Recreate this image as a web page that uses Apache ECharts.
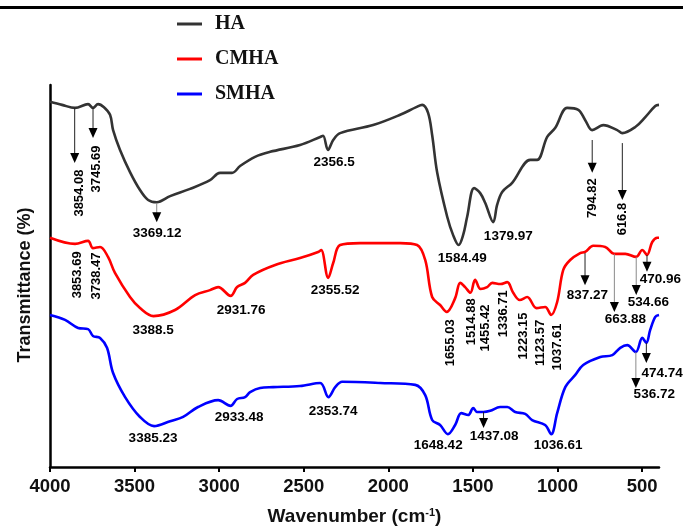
<!DOCTYPE html>
<html>
<head>
<meta charset="utf-8">
<script src="https://cdn.jsdelivr.net/npm/echarts@6/dist/echarts.min.js"></script>
<style>
html,body{margin:0;padding:0;background:#fff;}
#c{width:683px;height:526px;}
</style>
</head>
<body>
<div id="c"></div>
<script>
// ---------- data (wavenumber cm-1, transmittance, arbitrary offset units) ----------
const seriesNames = ['HA', 'CMHA', 'SMHA'];
const xTickValues = [4000, 3500, 3000, 2500, 2000, 1500, 1000, 500];

const haData = [[4000,95.6],[3929,94.8],[3852,94.0],[3775,95.0],[3746,94.0],[3716,95.0],[3681,94.2],[3645,92.2],[3627,88.2],[3586,83.0],[3527,77.2],[3468,72.5],[3420,69.9],[3369,69.3],[3290,70.9],[3172,72.8],[3054,75.1],[2995,77.0],[2924,77.0],[2876,78.8],[2788,81.2],[2699,82.5],[2522,84.3],[2403,86.4],[2386,86.7],[2356.5,83.0],[2326,85.6],[2285,87.4],[2090,89.5],[1930,92.2],[1835,94.2],[1800,94.8],[1765,92.7],[1741,86.9],[1711,77.0],[1652,65.5],[1617,60.7],[1584.5,58.1],[1558,60.7],[1534,65.5],[1493,73.0],[1457,71.7],[1427,69.1],[1380,64.1],[1357,68.6],[1327,72.0],[1268,74.4],[1161,80.4],[1120,80.4],[1061,86.4],[1013,88.8],[943,94.0],[877,93.5],[836,90.8],[795,88.2],[729,89.5],[647,88.2],[617,87.4],[540,89.0],[481,91.6],[422,94.5],[400,94.8]];

const cmhaData = [[4000,60.0],[3852,58.4],[3775,59.2],[3746,57.3],[3704,57.6],[3657,55.0],[3616,50.8],[3527,44.5],[3468,41.6],[3388.5,39.5],[3261,41.1],[3142,45.0],[3054,46.3],[3006,47.1],[2932,44.8],[2894,47.1],[2847,48.2],[2799,50.3],[2669,52.9],[2522,54.7],[2415,56.3],[2397,56.8],[2355.5,49.5],[2326,53.4],[2285,58.1],[2167,58.6],[1930,58.6],[1830,58.1],[1782,54.2],[1741,44.5],[1694,42.4],[1655,40.6],[1605,44.2],[1575,48.2],[1546,47.1],[1515,45.6],[1487,49.0],[1455,46.6],[1416,47.1],[1386,48.2],[1337,47.9],[1297,48.4],[1262,45.6],[1223,43.7],[1179,44.5],[1124,41.6],[1073,41.9],[1037.6,39.8],[1002,43.2],[966,51.6],[925,54.2],[866,56.0],[837,56.3],[789,57.9],[718,57.6],[664,55.8],[599,55.8],[534.7,55.0],[499,56.8],[471,55.5],[440,58.9],[410,60.0],[400,60.0]];

const smhaData = [[4000,39.8],[3911,38.5],[3834,36.4],[3775,36.1],[3746,34.3],[3704,33.8],[3663,31.2],[3627,24.6],[3556,18.3],[3468,13.1],[3385,10.7],[3290,12.0],[3213,13.1],[3125,15.7],[3006,17.5],[2933,16.0],[2894,17.8],[2847,18.3],[2817,19.6],[2758,20.7],[2681,20.9],[2522,21.2],[2403,22.0],[2354,18.3],[2314,20.9],[2273,22.3],[2048,22.0],[1841,21.5],[1782,18.8],[1741,12.3],[1694,11.0],[1648,8.6],[1605,11.0],[1569,14.1],[1528,13.6],[1498,15.4],[1475,14.4],[1437,14.4],[1398,14.7],[1339,15.7],[1297,15.7],[1250,14.4],[1191,13.9],[1150,12.3],[1073,11.0],[1037,8.6],[1002,14.1],[954,20.9],[895,24.1],[848,26.7],[747,28.8],[676,29.3],[629,31.2],[588,31.9],[537,30.1],[499,33.8],[475,32.5],[452,35.9],[422,39.3],[400,39.8]];

// arrows: [wavenumber, from T, to T (tip)]
const haArrows = [[3854.08,94.0,79.6],[3745.69,94.0,86.1],[3369.12,69.1,64.1],[794.82,85.6,77.0],[616.8,84.8,69.9]];
const cmhaArrows = [[837.27,56.0,47.6],[663.88,55.8,40.6],[534.66,55.0,45.0],[470.96,55.5,51.1]];
const smhaArrows = [[1437.08,14.4,10.2],[536.72,30.1,20.7],[474.74,32.5,27.2]];
const lightArrows = [3369.12, 663.88, 534.66, 536.72];

// peak labels: [text, wavenumber, T, vertical]
const haLabels = [['3854.08',3828,71.7,1],['3745.69',3728,78.0,1],['3369.12',3367,61.3,0],['2356.5',2320,79.8,0],['1584.49',1563,54.7,0],['1379.97',1291,60.5,0],['794.82',795,70.4,1],['616.8',617,64.9,1]];
const cmhaLabels = [['3853.69',3840,50.3,1],['3738.47',3728,50.0,1],['3388.5',3391,35.9,0],['2931.76',2870,41.1,0],['2355.52',2314,46.3,0],['1655.03',1634,32.5,1],['1514.88',1510,38.0,1],['1455.42',1427,36.4,1],['1336.71',1321,40.1,1],['1223.15',1203,34.3,1],['1123.57',1102,32.5,1],['1037.61',1002,31.4,1],['837.27',824,45.0,0],['663.88',599,38.7,0],['534.66',463,43.2,0],['470.96',392,49.2,0]];
const smhaLabels = [['3385.23',3391,7.6,0],['2933.48',2882,13.1,0],['2353.74',2326,14.7,0],['1648.42',1705,5.8,0],['1437.08',1374,8.1,0],['1036.61',996,5.8,0],['536.72',428,19.1,0],['474.74',381,24.6,0]];

// ---------- chart ----------
const FONT = '"Liberation Sans", Arial, sans-serif';
const colors = ['#333333', '#ff0000', '#0000ff'];

function lineSeries(name, data, color) {
  return {
    name: name, type: 'line', data: data, showSymbol: false, smooth: 0.35,
    lineStyle: { color: color, width: 2.6 }, itemStyle: { color: color },
    z: 3, silent: true
  };
}
function arrowSeries(arr) {
  return {
    type: 'custom', silent: true, z: 4, clip: false,
    data: arr.map(a => [a[0], a[1], a[2]]),
    encode: { x: 0, y: [1, 2] },
    renderItem: function (params, api) {
      const wn = api.value(0);
      const p1 = api.coord([wn, api.value(1)]);
      const p2 = api.coord([wn, api.value(2)]);
      const light = lightArrows.indexOf(wn) >= 0;
      const h = 10, w = 4.5;
      return {
        type: 'group',
        children: [
          { type: 'line', shape: { x1: p1[0], y1: p1[1], x2: p2[0], y2: p2[1] - h + 1 },
            style: { stroke: light ? '#8a8a8a' : '#222', lineWidth: 1 } },
          { type: 'polygon', shape: { points: [[p2[0] - w, p2[1] - h], [p2[0] + w, p2[1] - h], [p2[0], p2[1]]] },
            style: { fill: '#000' } }
        ]
      };
    }
  };
}
function labelSeries(arr) {
  return {
    type: 'custom', silent: true, z: 5, clip: false,
    data: arr.map(l => [l[1], l[2]]),
    encode: { x: 0, y: 1 },
    renderItem: function (params, api) {
      const l = arr[params.dataIndex];
      const p = api.coord([api.value(0), api.value(1)]);
      return {
        type: 'text', x: p[0], y: p[1], rotation: l[3] ? Math.PI / 2 : 0,
        style: {
          text: l[0], fill: '#000',
          font: 'bold ' + (l[3] ? 13 : 13.5) + 'px ' + FONT,
          align: 'center', verticalAlign: 'middle'
        }
      };
    }
  };
}

const chart = echarts.init(document.getElementById('c'), null, { renderer: 'canvas' });
chart.setOption({
  animation: false,
  backgroundColor: '#fff',
  grid: { left: 50, right: 24, top: 85, bottom: 59, outerBoundsMode: 'none', containLabel: false },
  legend: {
    data: seriesNames, orient: 'vertical', left: 177, top: 14, padding: 0,
    icon: 'rect', itemWidth: 25, itemHeight: 3, itemGap: 15,
    textStyle: { fontFamily: '"Liberation Serif", "Times New Roman", serif', fontWeight: 'bold', fontSize: 20, color: '#111', lineHeight: 20, padding: [0, 0, 0, 8] }
  },
  xAxis: {
    type: 'value', inverse: true, min: 400, max: 4000,
    name: 'Wavenumber (cm{sup|-1})', nameLocation: 'middle', nameGap: 40,
    nameTextStyle: {
      fontFamily: FONT, fontWeight: 'bold', fontSize: 19, color: '#111',
      rich: { sup: { fontFamily: FONT, fontWeight: 'bold', fontSize: 11, color: '#111', verticalAlign: 'bottom', padding: [0, 0, 9, 0] } }
    },
    axisLine: { show: true, onZero: false, lineStyle: { color: '#000', width: 2.5 } },
    axisTick: { show: true, length: 5, lineStyle: { color: '#000', width: 2 }, customValues: xTickValues },
    axisLabel: { customValues: xTickValues, margin: 10, formatter: v => String(v), fontFamily: FONT, fontWeight: 'bold', fontSize: 18.5, color: '#111' },
    splitLine: { show: false }
  },
  yAxis: {
    type: 'value', min: 0, max: 100,
    name: 'Transmittance (%)', nameLocation: 'middle', nameGap: 16,
    nameTextStyle: { fontFamily: FONT, fontWeight: 'bold', fontSize: 18, color: '#111', padding: [0, 18, 0, 0] },
    axisLine: { show: true, lineStyle: { color: '#000', width: 2.5 } },
    axisTick: { show: false }, axisLabel: { show: false }, splitLine: { show: false }
  },
  graphic: [{
    type: 'line', shape: { x1: 0, y1: 7.5, x2: 683, y2: 7.5 },
    style: { stroke: '#000', lineWidth: 3 }, silent: true
  }],
  series: [
    lineSeries('HA', haData, colors[0]),
    lineSeries('CMHA', cmhaData, colors[1]),
    lineSeries('SMHA', smhaData, colors[2]),
    arrowSeries(haArrows),
    arrowSeries(cmhaArrows),
    arrowSeries(smhaArrows),
    labelSeries(haLabels),
    labelSeries(cmhaLabels),
    labelSeries(smhaLabels)
  ]
});
</script>
</body>
</html>
